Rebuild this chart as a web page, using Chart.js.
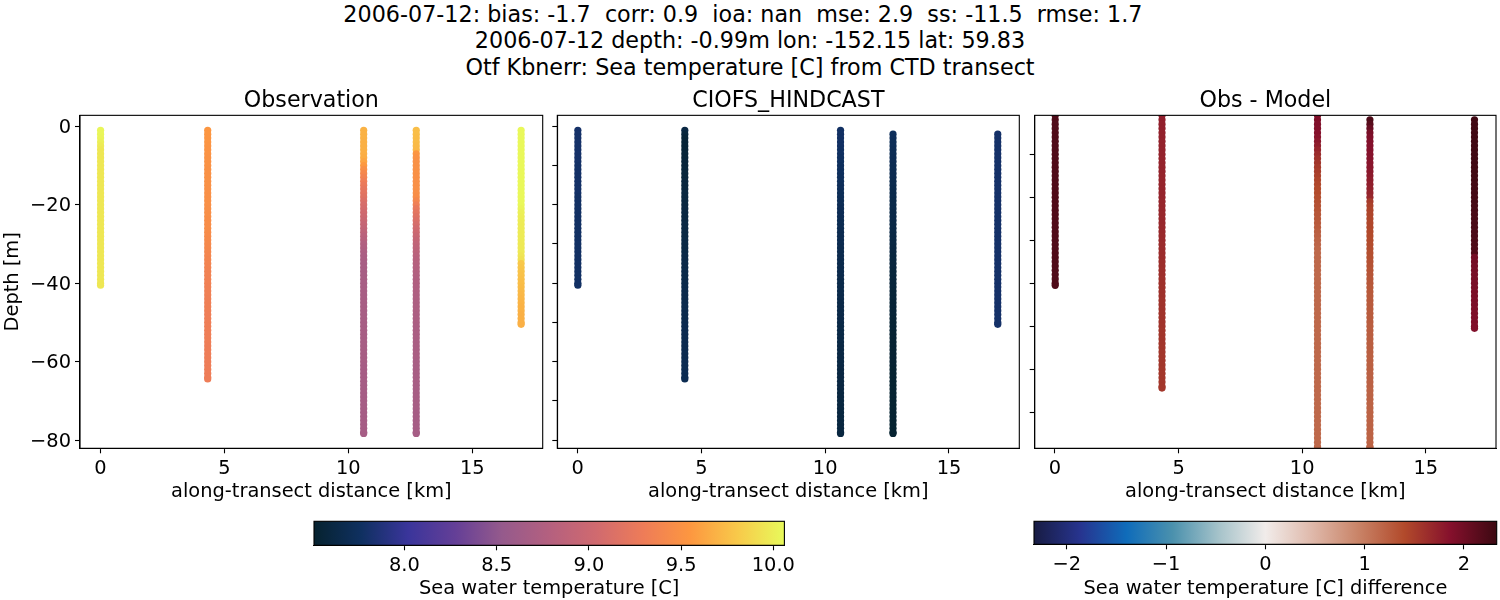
<!DOCTYPE html>
<html>
<head>
<meta charset="utf-8">
<script src="https://cdn.jsdelivr.net/npm/chart.js@4/dist/chart.umd.min.js"></script>
<style>
    html, body { margin: 0; padding: 0; background: #fff; width: 1500px; height: 600px; overflow: hidden; }
    canvas { position: absolute; }
    .sup { position: absolute; left: 0; width: 1500px; text-align: center; white-space: pre;
           font: 22.25px "DejaVu Sans"; line-height: 27px; color: #000; }
</style>
</head>
<body>
<div class="sup" style="top:1px">2006-07-12: bias: -1.7  corr: 0.9  ioa: nan  mse: 2.9  ss: -11.5  rmse: 1.7  </div>
<div class="sup" style="top:27px">2006-07-12 depth: -0.99m lon: -152.15 lat: 59.83</div>
<div class="sup" style="top:54px">Otf Kbnerr: Sea temperature [C] from CTD transect</div>

<canvas id="obsChart" style="left:0;top:80px"></canvas>
<canvas id="modelChart" style="left:548px;top:80px"></canvas>
<canvas id="diffChart" style="left:1025px;top:80px"></canvas>
<canvas id="tempBar" style="left:294px;top:515px"></canvas>
<canvas id="diffBar" style="left:1020px;top:515px"></canvas>

<script>
// along-transect position of each cast [km]
const castKm = [0.01, 4.33, 10.62, 12.74, 16.97];

// Depths [m], one list per cast
const depth0 = [-1,-2,-3,-4,-5,-6,-7,-8,-9,-10,-11,-12,-13,-14,-15,-16,-17,-18,-19,-20,
    -21,-22,-23,-24,-25,-26,-27,-28,-29,-30,-31,-32,-33,-34,-35,-36,-37,-38,-39,-40,-40.5];
const depth1 = [-1,-2,-3,-4,-5,-6,-7,-8,-9,-10,-11,-12,-13,-14,-15,-16,-17,-18,-19,-20,
    -21,-22,-23,-24,-25,-26,-27,-28,-29,-30,-31,-32,-33,-34,-35,-36,-37,-38,-39,-40,
    -41,-42,-43,-44,-45,-46,-47,-48,-49,-50,-51,-52,-53,-54,-55,-56,-57,-58,-59,-60,
    -61,-62,-63,-64,-64.4];
const depth2 = [-1,-2,-3,-4,-5,-6,-7,-8,-9,-10,-11,-12,-13,-14,-15,-16,-17,-18,-19,-20,
    -21,-22,-23,-24,-25,-26,-27,-28,-29,-30,-31,-32,-33,-34,-35,-36,-37,-38,-39,-40,
    -41,-42,-43,-44,-45,-46,-47,-48,-49,-50,-51,-52,-53,-54,-55,-56,-57,-58,-59,-60,
    -61,-62,-63,-64,-65,-66,-67,-68,-69,-70,-71,-72,-73,-74,-75,-76,-77,-78,-78.3];
const depth3 = [-1,-2,-3,-4,-5,-6,-7,-8,-9,-10,-11,-12,-13,-14,-15,-16,-17,-18,-19,-20,
    -21,-22,-23,-24,-25,-26,-27,-28,-29,-30,-31,-32,-33,-34,-35,-36,-37,-38,-39,-40,
    -41,-42,-43,-44,-45,-46,-47,-48,-49,-50,-51,-52,-53,-54,-55,-56,-57,-58,-59,-60,
    -61,-62,-63,-64,-65,-66,-67,-68,-69,-70,-71,-72,-73,-74,-75,-76,-77,-78,-78.3];
const depth4 = [-1,-2,-3,-4,-5,-6,-7,-8,-9,-10,-11,-12,-13,-14,-15,-16,-17,-18,-19,-20,
    -21,-22,-23,-24,-25,-26,-27,-28,-29,-30,-31,-32,-33,-34,-35,-36,-37,-38,-39,-40,
    -41,-42,-43,-44,-45,-46,-47,-48,-49,-50,-50.5];
const depths = [depth0, depth1, depth2, depth3, depth4];

// Observed temperature [C]
const obs0 = [10.04,10.04,10.03,10.01,9.98,9.96,9.96,9.96,9.96,9.96,
    9.96,9.96,9.96,9.96,9.96,9.96,9.96,9.96,9.96,9.96,
    9.96,9.96,9.96,9.96,9.96,9.96,9.96,9.96,9.96,9.96,
    9.96,9.96,9.96,9.96,9.96,9.96,9.96,9.96,9.96,9.96,9.96];
const obs1 = [9.54,9.54,9.53,9.53,9.52,9.51,9.51,9.50,9.50,9.50,
    9.49,9.49,9.49,9.49,9.49,9.48,9.48,9.48,9.48,9.48,
    9.47,9.47,9.47,9.46,9.46,9.46,9.45,9.44,9.43,9.42,
    9.41,9.40,9.39,9.38,9.37,9.36,9.35,9.35,9.34,9.34,
    9.33,9.33,9.33,9.32,9.32,9.32,9.32,9.31,9.31,9.31,
    9.31,9.31,9.31,9.31,9.31,9.30,9.30,9.30,9.30,9.30,
    9.30,9.30,9.30,9.30,9.30];
const obs2 = [9.69,9.69,9.69,9.68,9.68,9.68,9.67,9.66,9.62,9.56,
    9.48,9.41,9.36,9.31,9.27,9.23,9.20,9.17,9.13,9.10,
    9.07,9.04,9.01,8.98,8.95,8.91,8.88,8.84,8.81,8.77,
    8.75,8.73,8.71,8.70,8.69,8.69,8.68,8.68,8.68,8.68,
    8.68,8.68,8.68,8.68,8.68,8.68,8.68,8.68,8.68,8.68,
    8.68,8.68,8.68,8.68,8.68,8.68,8.68,8.68,8.68,8.68,
    8.67,8.67,8.67,8.67,8.67,8.67,8.67,8.67,8.67,8.67,
    8.67,8.67,8.67,8.67,8.67,8.67,8.67,8.67,8.67];
const obs3 = [9.75,9.75,9.74,9.74,9.73,9.72,9.54,9.50,9.49,9.49,
    9.49,9.49,9.48,9.48,9.48,9.48,9.47,9.46,9.40,9.33,
    9.25,9.21,9.17,9.13,9.09,9.05,9.02,8.98,8.94,8.90,
    8.88,8.86,8.84,8.82,8.80,8.79,8.78,8.77,8.76,8.76,
    8.75,8.75,8.74,8.74,8.73,8.73,8.73,8.72,8.72,8.72,
    8.71,8.71,8.71,8.71,8.70,8.70,8.70,8.70,8.70,8.69,
    8.69,8.69,8.69,8.69,8.69,8.68,8.68,8.68,8.68,8.68,
    8.68,8.68,8.67,8.67,8.67,8.67,8.67,8.67,8.67];
const obs4 = [10.05,10.05,10.05,10.05,10.05,10.05,10.05,10.05,10.05,10.05,
    10.05,10.05,10.05,10.05,10.05,10.05,10.05,10.05,10.05,10.05,
    10.03,10.01,10.00,9.99,9.98,9.98,9.98,9.98,9.98,9.97,
    9.97,9.97,9.95,9.93,9.80,9.79,9.78,9.77,9.76,9.75,
    9.74,9.73,9.72,9.71,9.70,9.69,9.69,9.68,9.68,9.68,9.68];
const obsValues = [obs0, obs1, obs2, obs3, obs4];

// Modelled temperature [C]; casts 3 and 4 start one metre lower
const model0 = [7.80,7.80,7.80,7.80,7.80,7.80,7.80,7.80,7.80,7.79,
    7.79,7.79,7.79,7.79,7.79,7.79,7.79,7.78,7.78,7.78,
    7.78,7.78,7.78,7.78,7.78,7.78,7.78,7.78,7.78,7.78,
    7.78,7.78,7.78,7.78,7.78,7.78,7.78,7.78,7.78,7.78,7.78];
const model1 = [7.62,7.58,7.55,7.55,7.55,7.55,7.56,7.56,7.57,7.57,
    7.58,7.58,7.58,7.59,7.59,7.59,7.60,7.60,7.60,7.60,
    7.61,7.61,7.61,7.61,7.62,7.62,7.62,7.62,7.63,7.63,
    7.63,7.63,7.64,7.64,7.64,7.64,7.65,7.65,7.65,7.65,
    7.66,7.66,7.66,7.66,7.66,7.67,7.67,7.67,7.67,7.67,
    7.68,7.68,7.68,7.68,7.68,7.68,7.68,7.68,7.68,7.69,
    7.69,7.69,7.69,7.69,7.69];
const model2 = [7.78,7.78,7.78,7.78,7.78,7.77,7.77,7.76,7.76,7.75,
    7.75,7.75,7.74,7.74,7.73,7.73,7.72,7.72,7.71,7.71,
    7.70,7.70,7.70,7.69,7.69,7.69,7.68,7.68,7.68,7.68,
    7.67,7.67,7.67,7.67,7.66,7.66,7.66,7.66,7.65,7.65,
    7.65,7.65,7.65,7.65,7.64,7.64,7.64,7.64,7.64,7.64,
    7.63,7.63,7.63,7.63,7.63,7.62,7.62,7.62,7.62,7.62,
    7.62,7.61,7.61,7.61,7.61,7.61,7.61,7.60,7.60,7.60,
    7.60,7.60,7.60,7.60,7.60,7.60,7.60,7.60,7.60];
const model3 = [7.74,7.73,7.72,7.72,7.71,7.71,7.70,7.70,7.69,7.69,
    7.68,7.68,7.67,7.67,7.66,7.66,7.66,7.65,7.65,7.65,
    7.64,7.64,7.64,7.63,7.63,7.63,7.62,7.62,7.62,7.61,
    7.61,7.60,7.60,7.59,7.59,7.58,7.58,7.57,7.57,7.57,
    7.56,7.56,7.56,7.55,7.55,7.55,7.55,7.54,7.54,7.54,
    7.54,7.53,7.53,7.53,7.53,7.53,7.53,7.53,7.53,7.53,
    7.52,7.52,7.52,7.52,7.52,7.52,7.52,7.52,7.52,7.52,
    7.52,7.52,7.52,7.52,7.52,7.52,7.52,7.52];
const model4 = [7.80,7.80,7.80,7.80,7.80,7.80,7.80,7.80,7.80,7.80,
    7.80,7.80,7.80,7.80,7.80,7.80,7.80,7.80,7.80,7.80,
    7.80,7.80,7.80,7.80,7.80,7.80,7.80,7.80,7.80,7.80,
    7.80,7.80,7.80,7.80,7.80,7.80,7.80,7.80,7.80,7.80,
    7.80,7.80,7.80,7.80,7.80,7.80,7.80,7.80,7.80,7.80];
const modelValues = [model0, model1, model2, model3, model4];

// Obs - model difference [C]
const diff0 = [2.20,2.20,2.20,2.20,2.20,2.20,2.20,2.20,2.20,2.20,
    2.20,2.20,2.20,2.20,2.20,2.20,2.20,2.20,2.20,2.20,
    2.20,2.20,2.20,2.20,2.20,2.20,2.20,2.20,2.20,2.20,
    2.20,2.20,2.20,2.20,2.20,2.20,2.20,2.20,2.20,2.20,2.20];
const diff1 = [1.75,1.75,1.74,1.74,1.73,1.73,1.72,1.72,1.72,1.72,
    1.71,1.71,1.71,1.71,1.70,1.70,1.70,1.70,1.70,1.70,
    1.69,1.69,1.69,1.68,1.68,1.68,1.67,1.67,1.66,1.66,
    1.65,1.65,1.64,1.64,1.63,1.63,1.62,1.62,1.61,1.61,
    1.60,1.60,1.60,1.59,1.59,1.59,1.58,1.58,1.58,1.58,
    1.57,1.57,1.57,1.57,1.56,1.56,1.56,1.56,1.56,1.55,
    1.55,1.55,1.55,1.55,1.55];
const diff2 = [1.90,1.90,1.89,1.88,1.86,1.84,1.81,1.76,1.70,1.65,
    1.60,1.57,1.53,1.50,1.47,1.44,1.42,1.40,1.38,1.36,
    1.35,1.33,1.32,1.30,1.29,1.27,1.25,1.23,1.21,1.19,
    1.18,1.16,1.15,1.15,1.15,1.15,1.15,1.15,1.15,1.15,
    1.15,1.15,1.15,1.15,1.15,1.15,1.15,1.15,1.15,1.15,
    1.15,1.15,1.15,1.15,1.15,1.15,1.15,1.15,1.15,1.15,
    1.15,1.15,1.15,1.15,1.15,1.15,1.15,1.15,1.15,1.15,
    1.15,1.15,1.15,1.15,1.15,1.15,1.15,1.15,1.15];
const diff3 = [2.22,2.15,2.05,1.95,1.90,1.88,1.87,1.86,1.85,1.84,
    1.83,1.82,1.81,1.79,1.77,1.75,1.73,1.71,1.68,1.52,
    1.47,1.45,1.44,1.43,1.42,1.42,1.41,1.40,1.39,1.38,
    1.37,1.36,1.35,1.34,1.33,1.32,1.31,1.30,1.29,1.28,
    1.28,1.27,1.27,1.26,1.26,1.25,1.25,1.25,1.24,1.24,
    1.24,1.23,1.23,1.23,1.23,1.22,1.22,1.22,1.22,1.21,
    1.21,1.21,1.21,1.20,1.20,1.20,1.20,1.20,1.20,1.20,
    1.20,1.20,1.20,1.20,1.20,1.20,1.20,1.20];
const diff4 = [2.30,2.30,2.30,2.30,2.30,2.30,2.30,2.30,2.30,2.30,
    2.30,2.29,2.29,2.29,2.29,2.28,2.28,2.28,2.27,2.27,
    2.26,2.26,2.25,2.25,2.24,2.24,2.23,2.23,2.22,2.22,
    2.21,2.20,1.97,1.97,1.96,1.96,1.95,1.95,1.94,1.94,
    1.93,1.93,1.92,1.92,1.91,1.91,1.90,1.90,1.89,1.89];
const diffValues = [diff0, diff1, diff2, diff3, diff4];

// Axis ranges and tick labels
const xRange = [-0.82, 17.84];
const yRangeObs = [-82.1, 2.8];
const yRangeDiff = [-78.4, -0.95];
const xTicks = [0, 5, 10, 15];
const tempRange = [7.51, 10.06];
const tempTicks = [8.0, 8.5, 9.0, 9.5, 10.0];
const diffRange = [-2.33, 2.33];
const diffTicks = [-2, -1, 0, 1, 2];

// Colormaps sampled off the colorbars, evenly spaced
const thermalStops = ['#06222f', '#0f3060', '#3a359b', '#643f97', '#955a8c', '#b4607f',
    '#d06a6f', '#ee7c58', '#fd9740', '#f8c94a', '#e8fa5b'];
const balanceStops = ['#181c43', '#27348f', '#0f6cba', '#4b91ad', '#a6c3ca', '#f1ecea',
    '#dfb9ab', '#c98468', '#b24a2b', '#85102c', '#3c0912'];

const FONT = '"DejaVu Sans"';
Chart.defaults.font.family = FONT;
Chart.defaults.font.size = 19.4;
Chart.defaults.color = '#000';
Chart.defaults.animation = false;

function hexToRgb(h) {
    return [1, 3, 5].map(i => parseInt(h.substr(i, 2), 16));
}

function colorFor(stops, range, v) {
    const t = Math.min(1, Math.max(0, (v - range[0]) / (range[1] - range[0]))) * (stops.length - 1);
    const i = Math.min(stops.length - 2, Math.floor(t));
    const a = hexToRgb(stops[i]), b = hexToRgb(stops[i + 1]);
    const c = a.map((n, k) => Math.round(n + (b[k] - n) * (t - i)));
    return `rgb(${c[0]},${c[1]},${c[2]})`;
}

// mpl style box around the axes
const framePlugin = {
    id: 'frame',
    afterDraw(chart) {
        const { ctx, chartArea: a } = chart;
        ctx.save();
        ctx.strokeStyle = '#000';
        ctx.lineWidth = 1.1;
        ctx.strokeRect(a.left, a.top, a.right - a.left, a.bottom - a.top);
        ctx.restore();
    }
};

const minus = v => String(v).replace('-', '\u2212');

function castDatasets(values, stops, range, skipFirst) {
    return values.map((vals, c) => {
        const d = depths[c].slice(skipFirst[c] ? 1 : 0);
        return {
            data: d.map((y, i) => ({ x: castKm[c], y, v: vals[i] })),
            pointRadius: 3.6,
            pointBorderWidth: 0,
            pointBackgroundColor: ctx => colorFor(stops, range, ctx.raw.v),
            clip: 0
        };
    });
}

function makePanel(id, opts) {
    const cv = document.getElementById(id);
    cv.width = opts.w;
    cv.height = 430;
    new Chart(cv, {
        type: 'scatter',
        data: { datasets: opts.datasets },
        options: {
            responsive: false,
            devicePixelRatio: 1,
            layout: { padding: { left: 0, top: 0, right: opts.padRight, bottom: 5.9 } },
            plugins: {
                legend: { display: false },
                tooltip: { enabled: false },
                title: {
                    display: true,
                    fullSize: false,
                    text: opts.title,
                    font: { size: 22.2, weight: 'normal', lineHeight: 1.2 },
                    padding: { top: 7.7, bottom: 1 }
                }
            },
            scales: {
                x: {
                    type: 'linear',
                    min: xRange[0],
                    max: xRange[1],
                    afterFit: s => { s.height = 55.8; },
                    afterBuildTicks: s => { s.ticks = xTicks.map(v => ({ value: v })); },
                    grid: { drawOnChartArea: false, tickLength: 5, tickColor: '#000', tickWidth: 1.1 },
                    border: { color: '#000', width: 1.1 },
                    ticks: { padding: 4, maxRotation: 0, autoSkip: false },
                    title: { display: true, text: 'along-transect distance [km]', padding: 0 }
                },
                y: {
                    type: 'linear',
                    min: opts.yRange[0],
                    max: opts.yRange[1],
                    afterFit: s => { s.width = opts.yWidth; },
                    afterBuildTicks: s => { s.ticks = opts.yTicks.map(v => ({ value: v })); },
                    grid: { drawOnChartArea: false, tickLength: 5, tickColor: '#000', tickWidth: 1.1 },
                    border: { color: '#000', width: 1.1 },
                    ticks: {
                        padding: 4,
                        labelOffset: 1.5,
                        autoSkip: false,
                        callback: v => opts.showY ? minus(v) : ''
                    },
                    title: { display: opts.showY, text: 'Depth [m]', padding: { top: 1, bottom: 0 } }
                }
            }
        },
        plugins: [framePlugin]
    });
}

function makeColorbar(id, opts) {
    const cv = document.getElementById(id);
    cv.width = opts.w;
    cv.height = 88;
    new Chart(cv, {
        type: 'bar',
        data: {
            labels: [''],
            datasets: [{
                data: [opts.range],
                barPercentage: 1,
                categoryPercentage: 1,
                borderWidth: 0,
                backgroundColor: ctx => {
                    const a = ctx.chart.chartArea;
                    if (!a) return 'transparent';
                    const g = ctx.chart.ctx.createLinearGradient(a.left, 0, a.right, 0);
                    opts.stops.forEach((c, i) => g.addColorStop(i / (opts.stops.length - 1), c));
                    return g;
                }
            }]
        },
        options: {
            indexAxis: 'y',
            responsive: false,
            devicePixelRatio: 1,
            layout: { padding: opts.padding },
            plugins: { legend: { display: false }, tooltip: { enabled: false } },
            scales: {
                y: { display: false },
                x: {
                    type: 'linear',
                    min: opts.range[0],
                    max: opts.range[1],
                    afterFit: s => { s.height = opts.axisH; },
                    afterBuildTicks: s => { s.ticks = opts.ticks.map(v => ({ value: v })); },
                    grid: { drawOnChartArea: false, tickLength: 5, tickColor: '#000', tickWidth: 1.1 },
                    border: { color: '#000', width: 1.1 },
                    ticks: { padding: 4, maxRotation: 0, autoSkip: false, callback: opts.fmt },
                    title: { display: true, text: opts.label, padding: 0 }
                }
            }
        },
        plugins: [framePlugin]
    });
}

const noSkip = [false, false, false, false, false];
const skipDeep = [false, false, false, true, true];

makePanel('obsChart', {
    w: 548, padRight: 5.3, yWidth: 80, showY: true, title: 'Observation',
    yRange: yRangeObs, yTicks: [0, -20, -40, -60, -80],
    datasets: castDatasets(obsValues, thermalStops, tempRange, noSkip)
});
makePanel('modelChart', {
    w: 477, padRight: 5.7, yWidth: 9.3, showY: false, title: 'CIOFS_HINDCAST',
    yRange: yRangeObs, yTicks: [0, -10, -20, -30, -40, -50, -60, -70, -80],
    datasets: castDatasets(modelValues, thermalStops, tempRange, skipDeep)
});
makePanel('diffChart', {
    w: 475, padRight: 4, yWidth: 9.7, showY: false, title: 'Obs - Model',
    yRange: yRangeDiff, yTicks: [-10, -20, -30, -40, -50, -60, -70],
    datasets: castDatasets(diffValues, balanceStops, diffRange, skipDeep)
});
makeColorbar('tempBar', {
    w: 510, range: tempRange, stops: thermalStops, ticks: tempTicks,
    label: 'Sea water temperature [C]', axisH: 55.8,
    padding: { left: 20, right: 19.6, top: 6.3, bottom: 1.9 },
    fmt: v => v.toFixed(1)
});
makeColorbar('diffBar', {
    w: 480, range: diffRange, stops: balanceStops, ticks: diffTicks,
    label: 'Sea water temperature [C] difference', axisH: 56.8,
    padding: { left: 14, right: 3.3, top: 6.3, bottom: 1.9 },
    fmt: v => minus(v)
});
</script>
</body>
</html>
